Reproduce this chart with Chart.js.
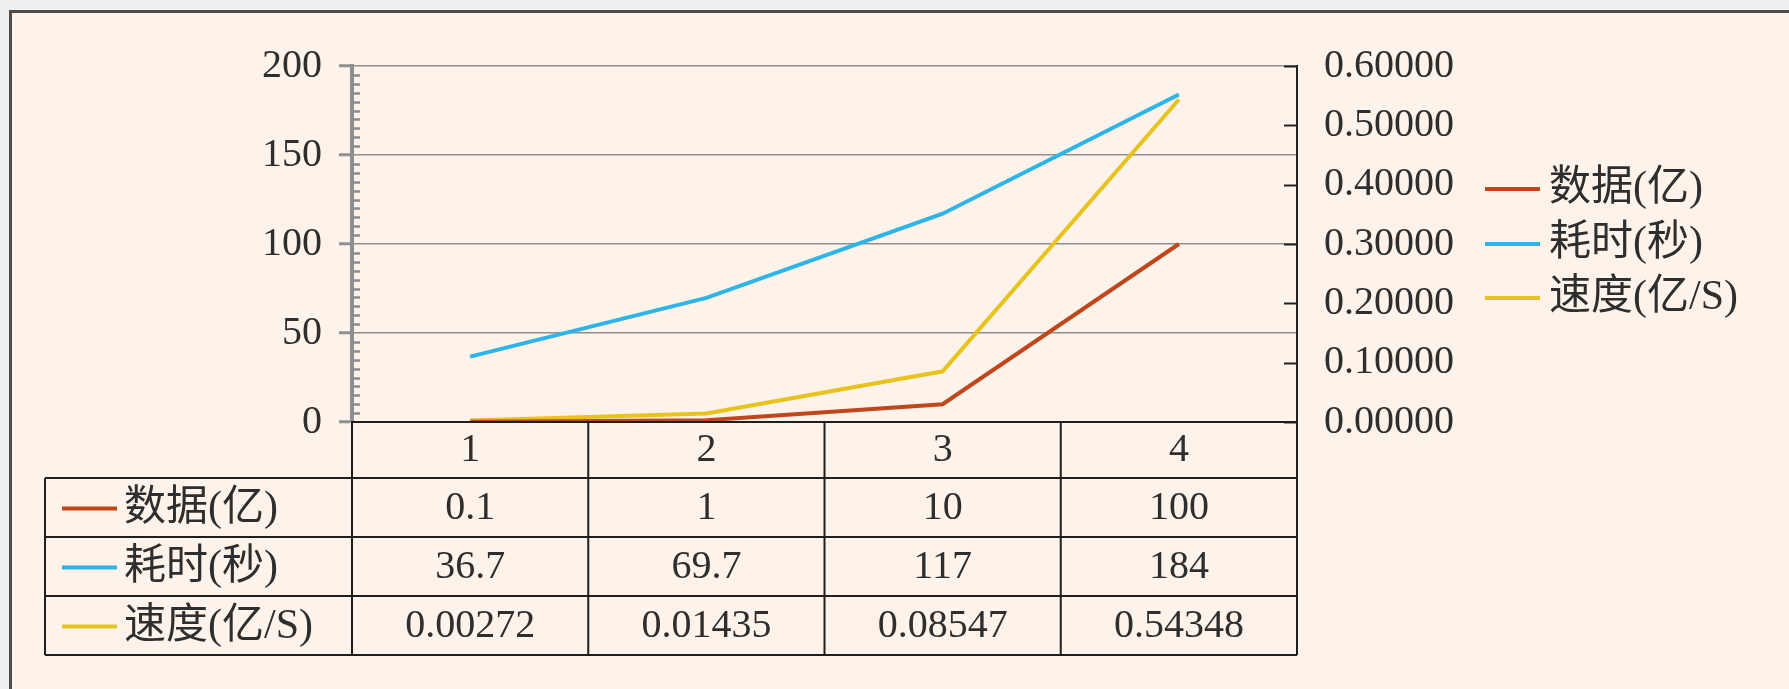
<!DOCTYPE html>
<html>
<head>
<meta charset="utf-8">
<script src="https://cdn.jsdelivr.net/npm/chart.js@4"></script>
<style>
  html, body { margin: 0; padding: 0; background: #efefef; }
  #wrap { width: 1789px; height: 689px; }
</style>
</head>
<body>
<div id="wrap"><canvas id="chart" width="1789" height="689"></canvas></div>
<script>
// data
const categories = ['1', '2', '3', '4'];
const seriesNames = ['数据(亿)', '耗时(秒)', '速度(亿/S)'];
const dataVolume = [0.1, 1, 10, 100];
const timeCost = [36.7, 69.7, 117, 184];
const speed = [0.00272, 0.01435, 0.08547, 0.54348];
const seriesColors = ['#c0461b', '#2db4e8', '#e8c31c'];

const W = 1789, H = 689;
const FONT = '"Liberation Serif", "Noto Sans CJK SC", serif';
const FONT_SIZE = 40;
const textColor = '#2e2e2e';

function formatCell(v, row) {
    return row === 2 ? v.toFixed(5) : String(v);
}

// frame, data table, legend and extra tick marks
const tablePlugin = {
    id: 'tablePlugin',
    beforeDraw(chart) {
        const ctx = chart.ctx;
        ctx.save();
        ctx.fillStyle = '#efefef';
        ctx.fillRect(0, 0, W, H);
        ctx.fillStyle = '#fdf3ea';
        ctx.fillRect(10, 11, W - 10, H - 11);
        ctx.strokeStyle = '#4d4d4d';
        ctx.lineWidth = 3;
        ctx.beginPath();
        ctx.moveTo(10.5, H);
        ctx.lineTo(10.5, 11.5);
        ctx.lineTo(W, 11.5);
        ctx.stroke();
        ctx.restore();
    },
    afterDraw(chart) {
        const ctx = chart.ctx;
        const area = chart.chartArea;
        const x = chart.scales.x;
        const yL = chart.scales.y;
        const yR = chart.scales.y1;
        const rows = [dataVolume, timeCost, speed];

        ctx.save();

        // minor ticks on left axis (inward)
        ctx.strokeStyle = '#8c8c8c';
        ctx.lineWidth = 2.5;
        for (let v = 5; v < 200; v += 5) {
            if (v % 50 === 0) continue;
            const p = Math.round(yL.getPixelForValue(v)) + 0.5;
            ctx.beginPath();
            ctx.moveTo(area.left, p);
            ctx.lineTo(area.left + 8, p);
            ctx.stroke();
        }

        // right axis ticks (inward)
        ctx.strokeStyle = '#222';
        ctx.lineWidth = 2;
        yR.ticks.forEach(t => {
            const p = Math.round(yR.getPixelForValue(t.value)) + 0.5;
            ctx.beginPath();
            ctx.moveTo(area.right - 13, p);
            ctx.lineTo(area.right, p);
            ctx.stroke();
        });

        // data table
        const half = (x.getPixelForValue(1) - x.getPixelForValue(0)) / 2;
        const edges = categories.map((c, i) => x.getPixelForValue(i) - half);
        edges.push(x.getPixelForValue(categories.length - 1) + half);
        const top = area.bottom;
        const headerBottom = top + 56;
        const rowH = 59;
        const tableLeft = 45;
        const bottom = headerBottom + rowH * rows.length;

        ctx.strokeStyle = '#1e1e1e';
        ctx.lineWidth = 2;
        ctx.beginPath();
        ctx.moveTo(area.left - 1, top);
        ctx.lineTo(area.right, top);
        for (let r = 0; r <= rows.length; r++) {
            const yy = headerBottom + r * rowH;
            ctx.moveTo(tableLeft, yy);
            ctx.lineTo(area.right, yy);
        }
        edges.forEach(ex => {
            ctx.moveTo(ex, top);
            ctx.lineTo(ex, bottom);
        });
        ctx.moveTo(tableLeft, headerBottom);
        ctx.lineTo(tableLeft, bottom);
        ctx.stroke();

        ctx.textBaseline = 'middle';
        rows.forEach((vals, r) => {
            const cy = headerBottom + r * rowH + rowH / 2 + 1;
            ctx.strokeStyle = seriesColors[r];
            ctx.lineWidth = 4;
            ctx.beginPath();
            ctx.moveTo(62, cy);
            ctx.lineTo(117, cy);
            ctx.stroke();
            ctx.fillStyle = textColor;
            ctx.textAlign = 'left';
            ctx.font = '42px ' + FONT;
            ctx.fillText(seriesNames[r], 124, cy);
            ctx.textAlign = 'center';
            ctx.font = FONT_SIZE + 'px ' + FONT;
            vals.forEach((v, i) => {
                ctx.fillText(formatCell(v, r), x.getPixelForValue(i), cy);
            });
        });

        // legend
        const legendY = [189, 244, 298];
        ctx.textAlign = 'left';
        ctx.font = '42px ' + FONT;
        seriesNames.forEach((name, i) => {
            ctx.strokeStyle = seriesColors[i];
            ctx.lineWidth = 4;
            ctx.beginPath();
            ctx.moveTo(1485, legendY[i]);
            ctx.lineTo(1540, legendY[i]);
            ctx.stroke();
            ctx.fillStyle = textColor;
            ctx.fillText(name, 1549, legendY[i]);
        });

        ctx.restore();
    }
};

new Chart(document.getElementById('chart'), {
    type: 'line',
    data: {
        labels: categories,
        datasets: [
            {
                label: seriesNames[0],
                data: dataVolume,
                borderColor: seriesColors[0],
                backgroundColor: seriesColors[0],
                borderWidth: 4,
                pointRadius: 0,
                yAxisID: 'y'
            },
            {
                label: seriesNames[1],
                data: timeCost,
                borderColor: seriesColors[1],
                backgroundColor: seriesColors[1],
                borderWidth: 4,
                pointRadius: 0,
                yAxisID: 'y'
            },
            {
                label: seriesNames[2],
                data: speed,
                borderColor: seriesColors[2],
                backgroundColor: seriesColors[2],
                borderWidth: 4,
                pointRadius: 0,
                yAxisID: 'y1'
            }
        ]
    },
    options: {
        responsive: false,
        animation: false,
        devicePixelRatio: 1,
        layout: { padding: { top: 66, right: 0, bottom: 0, left: 0 } },
        plugins: {
            legend: { display: false },
            tooltip: { enabled: false }
        },
        scales: {
            x: {
                offset: true,
                grid: { display: false, drawTicks: false },
                border: { display: false },
                ticks: {
                    color: textColor,
                    padding: 4,
                    font: { family: FONT, size: FONT_SIZE }
                },
                afterFit(scale) { scale.height = H - 422; }
            },
            y: {
                position: 'left',
                min: 0,
                max: 200,
                ticks: {
                    stepSize: 50,
                    color: textColor,
                    padding: 17,
                    font: { family: FONT, size: FONT_SIZE }
                },
                grid: {
                    color: '#8f8f8f',
                    lineWidth: 1.5,
                    tickLength: 13,
                    tickColor: '#8f8f8f',
                    tickWidth: 3
                },
                border: { color: '#8f8f8f', width: 4 },
                afterFit(scale) { scale.width = 352; }
            },
            y1: {
                position: 'right',
                min: 0,
                max: 0.6,
                ticks: {
                    stepSize: 0.1,
                    color: textColor,
                    padding: 27,
                    font: { family: FONT, size: FONT_SIZE },
                    callback: v => Number(v).toFixed(5)
                },
                grid: { drawOnChartArea: false, drawTicks: false },
                border: { color: '#222', width: 2 },
                afterFit(scale) { scale.width = W - 1297; }
            }
        }
    },
    plugins: [tablePlugin]
});
</script>
</body>
</html>
